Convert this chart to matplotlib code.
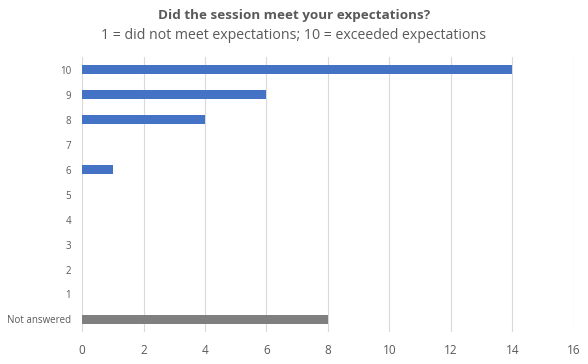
import matplotlib.pyplot as plt

categories = ["Not answered", "1", "2", "3", "4", "5", "6", "7", "8", "9", "10"]
counts = [8, 0, 0, 0, 0, 0, 1, 0, 4, 6, 14]
colors = ["#7f7f7f"] + ["#4472c4"] * 10
xticks = [0, 2, 4, 6, 8, 10, 12, 14, 16]

plt.rcParams['font.family'] = ['Open Sans', 'DejaVu Sans']

fig = plt.figure(figsize=(5.88, 3.64), dpi=100)
ax = fig.add_axes([0.1395, 0.088, 0.8365, 0.755])

pos = list(range(len(categories)))
ax.barh(pos, counts, height=0.38, color=colors, zorder=3)

ax.set_xlim(0, 16)
ax.set_ylim(-0.5, 10.5)
ax.set_xticks(xticks)
ax.set_yticks(pos)
ax.set_yticklabels(categories)
ax.tick_params(length=0, labelsize=7, colors="#595959")
ax.tick_params(axis='x', pad=9, labelsize=8.5)
ax.tick_params(axis='y', pad=8)
ax.grid(axis='x', color="#d9d9d9", linewidth=0.8, zorder=0)
for s in ax.spines.values():
    s.set_visible(False)

fig.text(0.5, 0.957, "Did the session meet your expectations?", ha='center', va='center',
         fontsize=9.7, fontweight='bold', color="#595959")
fig.text(0.5, 0.903, "1 = did not meet expectations; 10 = exceeded expectations", ha='center',
         va='center', fontsize=10.2, color="#595959")

plt.savefig('out.png', dpi=100)
